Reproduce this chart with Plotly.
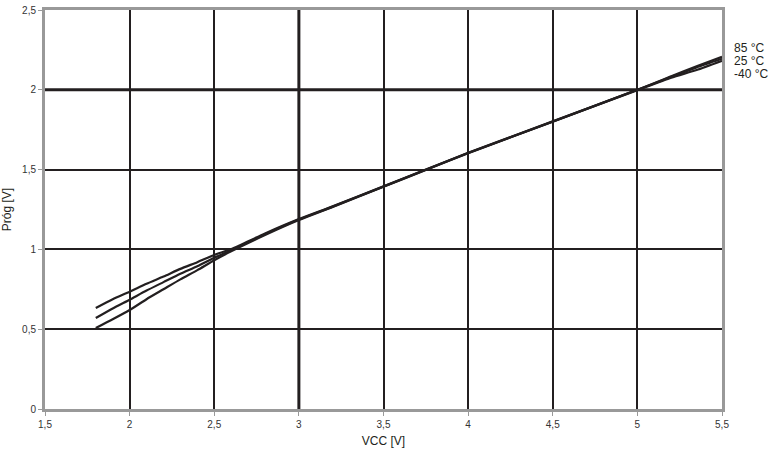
import plotly.graph_objects as go

vcc = [1.8, 1.9, 2.0, 2.1, 2.2, 2.3, 2.4, 2.5, 2.6, 2.8, 3.0, 3.2, 3.5, 3.75, 4.0, 4.5, 5.0, 5.2, 5.35, 5.5]
t85 = [0.633, 0.688, 0.735, 0.785, 0.830, 0.878, 0.920, 0.965, 1.002, 1.100, 1.190, 1.270, 1.395, 1.500, 1.605, 1.802, 2.000, 2.085, 2.148, 2.207]
t25 = [0.570, 0.630, 0.685, 0.742, 0.795, 0.848, 0.895, 0.948, 0.995, 1.095, 1.187, 1.268, 1.394, 1.499, 1.604, 1.801, 2.000, 2.081, 2.140, 2.195]
tm40 = [0.507, 0.562, 0.620, 0.688, 0.750, 0.812, 0.870, 0.932, 0.988, 1.090, 1.184, 1.266, 1.393, 1.498, 1.603, 1.800, 1.998, 2.076, 2.124, 2.182]
series = [("85 °C", t85), ("25 °C", t25), ("-40 °C", tm40)]

x_ticks = [1.5, 2, 2.5, 3, 3.5, 4, 4.5, 5, 5.5]
y_ticks = [0, 0.5, 1, 1.5, 2, 2.5]
heavy_x = [3]
heavy_y = [2]

FONT = "Liberation Sans, Arial"

fig = go.Figure()
for name, vals in series:
    fig.add_trace(go.Scatter(x=vcc, y=vals, mode="lines", name=name,
                             line=dict(color="#231f20", width=2.2, shape="spline", smoothing=0.6)))

for hx in heavy_x:
    fig.add_shape(type="line", xref="x", yref="paper", x0=hx, x1=hx, y0=0, y1=1,
                  line=dict(color="#231f20", width=3), layer="below")
for hy in heavy_y:
    fig.add_shape(type="line", xref="paper", yref="y", x0=0, x1=1, y0=hy, y1=hy,
                  line=dict(color="#231f20", width=3), layer="below")

label_y = [0.906, 0.873, 0.839]
for (name, _), ly in zip(series, label_y):
    fig.add_annotation(text=name, xref="paper", yref="paper", x=1.0, y=ly,
                       xanchor="left", yanchor="middle", xshift=10, showarrow=False,
                       font=dict(family=FONT, size=12, color="#231f20"))

axis_common = dict(showline=True, linecolor="#999999", linewidth=3, mirror=True,
                   showgrid=True, gridcolor="#231f20", gridwidth=2, zeroline=False,
                   ticks="outside", ticklen=4, tickcolor="#999999", tickwidth=1,
                   automargin=False,
                   tickfont=dict(family=FONT, size=10, color="#333333"))

fig.update_layout(
    width=770, height=455,
    margin=dict(l=45, r=48, t=10, b=46),
    paper_bgcolor="white", plot_bgcolor="white",
    showlegend=False,
    separators=", ",
    xaxis=dict(range=[1.5, 5.5], tickvals=x_ticks,
               title=dict(text="VCC [V]", standoff=8,
                          font=dict(family=FONT, size=12, color="#231f20")),
               **axis_common),
    yaxis=dict(range=[0, 2.5], tickvals=y_ticks,
               title=dict(text="Próg [V]", standoff=10,
                          font=dict(family=FONT, size=12, color="#231f20")),
               **axis_common),
)

fig.write_html("out.html", config={"displayModeBar": False},
               post_script="document.body.style.margin='0';")
